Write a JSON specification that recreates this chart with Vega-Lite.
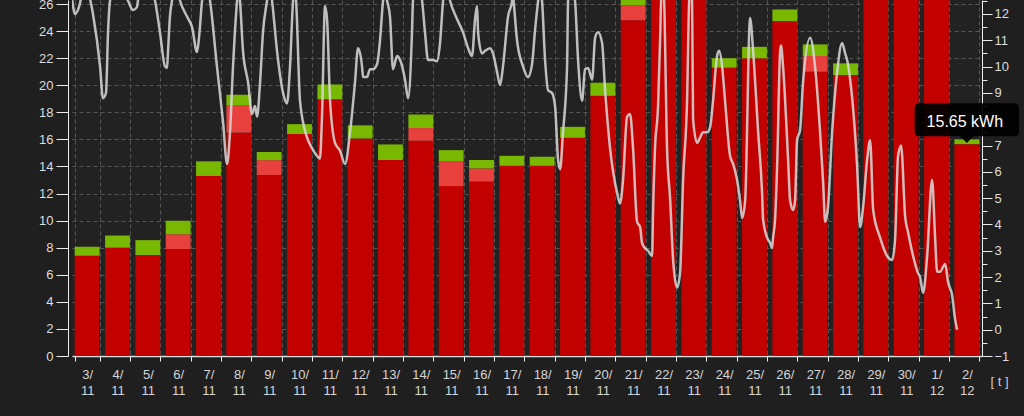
{
  "$schema": "https://vega.github.io/schema/vega-lite/v6.json",
  "width": 910,
  "height": 356,
  "autosize": "none",
  "padding": {"left": 72, "top": 0, "right": 42, "bottom": 60},
  "background": "#1f1f1f",
  "config": {
    "view": {"fill": "#222222", "stroke": null},
    "font": "Liberation Sans",
    "axis": {"labelFont": "Liberation Sans", "titleFont": "Liberation Sans"}
  },
  "datasets": {
    "energy": [
      {"day": "3/11", "part": "base", "kwh": 7.4}, {"day": "3/11", "part": "top", "kwh": 0.68},
      {"day": "4/11", "part": "base", "kwh": 8.0}, {"day": "4/11", "part": "top", "kwh": 0.9},
      {"day": "5/11", "part": "base", "kwh": 7.46}, {"day": "5/11", "part": "top", "kwh": 1.1},
      {"day": "6/11", "part": "base", "kwh": 7.9}, {"day": "6/11", "part": "extra", "kwh": 1.1}, {"day": "6/11", "part": "top", "kwh": 1.0},
      {"day": "7/11", "part": "base", "kwh": 13.3}, {"day": "7/11", "part": "top", "kwh": 1.08},
      {"day": "8/11", "part": "base", "kwh": 16.5}, {"day": "8/11", "part": "extra", "kwh": 2.0}, {"day": "8/11", "part": "top", "kwh": 0.8},
      {"day": "9/11", "part": "base", "kwh": 13.37}, {"day": "9/11", "part": "extra", "kwh": 1.1}, {"day": "9/11", "part": "top", "kwh": 0.6},
      {"day": "10/11", "part": "base", "kwh": 16.4}, {"day": "10/11", "part": "top", "kwh": 0.73},
      {"day": "11/11", "part": "base", "kwh": 18.96}, {"day": "11/11", "part": "top", "kwh": 1.1},
      {"day": "12/11", "part": "base", "kwh": 16.07}, {"day": "12/11", "part": "top", "kwh": 0.97},
      {"day": "13/11", "part": "base", "kwh": 14.48}, {"day": "13/11", "part": "top", "kwh": 1.15},
      {"day": "14/11", "part": "base", "kwh": 15.9}, {"day": "14/11", "part": "extra", "kwh": 0.94}, {"day": "14/11", "part": "top", "kwh": 1.0},
      {"day": "15/11", "part": "base", "kwh": 12.55}, {"day": "15/11", "part": "extra", "kwh": 1.85}, {"day": "15/11", "part": "top", "kwh": 0.81},
      {"day": "16/11", "part": "base", "kwh": 12.88}, {"day": "16/11", "part": "extra", "kwh": 0.98}, {"day": "16/11", "part": "top", "kwh": 0.62},
      {"day": "17/11", "part": "base", "kwh": 14.05}, {"day": "17/11", "part": "top", "kwh": 0.74},
      {"day": "18/11", "part": "base", "kwh": 14.05}, {"day": "18/11", "part": "top", "kwh": 0.67},
      {"day": "19/11", "part": "base", "kwh": 16.12}, {"day": "19/11", "part": "top", "kwh": 0.81},
      {"day": "20/11", "part": "base", "kwh": 19.22}, {"day": "20/11", "part": "top", "kwh": 0.97},
      {"day": "21/11", "part": "base", "kwh": 24.8}, {"day": "21/11", "part": "extra", "kwh": 1.1}, {"day": "21/11", "part": "top", "kwh": 0.9},
      {"day": "22/11", "part": "base", "kwh": 29.0}, {"day": "22/11", "part": "top", "kwh": 1.0},
      {"day": "23/11", "part": "base", "kwh": 30.5}, {"day": "23/11", "part": "top", "kwh": 1.0},
      {"day": "24/11", "part": "base", "kwh": 21.3}, {"day": "24/11", "part": "top", "kwh": 0.7},
      {"day": "25/11", "part": "base", "kwh": 21.99}, {"day": "25/11", "part": "top", "kwh": 0.85},
      {"day": "26/11", "part": "base", "kwh": 24.74}, {"day": "26/11", "part": "top", "kwh": 0.86},
      {"day": "27/11", "part": "base", "kwh": 21.0}, {"day": "27/11", "part": "extra", "kwh": 1.16}, {"day": "27/11", "part": "top", "kwh": 0.86},
      {"day": "28/11", "part": "base", "kwh": 20.75}, {"day": "28/11", "part": "top", "kwh": 0.87},
      {"day": "29/11", "part": "base", "kwh": 28.0}, {"day": "29/11", "part": "top", "kwh": 1.0},
      {"day": "30/11", "part": "base", "kwh": 29.5}, {"day": "30/11", "part": "top", "kwh": 1.0},
      {"day": "1/12", "part": "base", "kwh": 27.5}, {"day": "1/12", "part": "top", "kwh": 1.0},
      {"day": "2/12", "part": "base", "kwh": 15.65}, {"day": "2/12", "part": "top", "kwh": 0.35}
    ],
    "temperature": [
      {"h": 0, "t": 12.6}, {"h": 2.4, "t": 12.0}, {"h": 6.3, "t": 12.4}, {"h": 8.7, "t": 13.0}, {"h": 11, "t": 13.4},
      {"h": 14.2, "t": 12.6}, {"h": 16.6, "t": 12.0}, {"h": 22.2, "t": 10.0}, {"h": 24.5, "t": 8.8}, {"h": 26.9, "t": 9.0},
      {"h": 28.5, "t": 11.3}, {"h": 30.1, "t": 12.5}, {"h": 36.4, "t": 13.4}, {"h": 44.3, "t": 12.5}, {"h": 48.3, "t": 12.15},
      {"h": 51.4, "t": 12.26}, {"h": 52.2, "t": 12.5}, {"h": 58.6, "t": 13.3}, {"h": 65.7, "t": 12.5}, {"h": 69.6, "t": 11.3},
      {"h": 73.6, "t": 10.0}, {"h": 75.2, "t": 9.95}, {"h": 76.0, "t": 10.6}, {"h": 77.5, "t": 11.9}, {"h": 79.1, "t": 12.5},
      {"h": 82.3, "t": 13.2}, {"h": 85.5, "t": 12.5}, {"h": 91.0, "t": 11.9}, {"h": 95.0, "t": 11.5}, {"h": 98.9, "t": 10.55},
      {"h": 100.5, "t": 11.1}, {"h": 102.9, "t": 12.5}, {"h": 106, "t": 13.3}, {"h": 109.2, "t": 12.5}, {"h": 114.7, "t": 10.0},
      {"h": 119.5, "t": 7.9}, {"h": 122.7, "t": 6.3}, {"h": 125.0, "t": 7.5}, {"h": 127.4, "t": 10.0}, {"h": 130.6, "t": 12.5},
      {"h": 131.7, "t": 13.0}, {"h": 132.9, "t": 12.5}, {"h": 135.3, "t": 10.6}, {"h": 139.3, "t": 9.4}, {"h": 142.4, "t": 8.2},
      {"h": 144.8, "t": 8.5}, {"h": 146.4, "t": 8.1}, {"h": 148.8, "t": 9.4}, {"h": 151.1, "t": 11.3}, {"h": 154.3, "t": 12.5},
      {"h": 156.3, "t": 13.2}, {"h": 158.3, "t": 12.5}, {"h": 162.2, "t": 10.6}, {"h": 167.0, "t": 9.0}, {"h": 170.1, "t": 8.6},
      {"h": 172.5, "t": 10.0}, {"h": 174.9, "t": 12.5}, {"h": 176.1, "t": 13.0}, {"h": 177.3, "t": 12.5}, {"h": 180.4, "t": 8.7},
      {"h": 186.0, "t": 7.3}, {"h": 189.9, "t": 6.9}, {"h": 193.9, "t": 6.6}, {"h": 196.2, "t": 6.5}, {"h": 197.8, "t": 8.1},
      {"h": 200.2, "t": 12.3}, {"h": 201.8, "t": 11.8}, {"h": 204.2, "t": 8.7}, {"h": 208.1, "t": 7.1}, {"h": 212.1, "t": 6.8},
      {"h": 216.0, "t": 6.3}, {"h": 220.0, "t": 7.5}, {"h": 223.9, "t": 9.4}, {"h": 226.3, "t": 10.7}, {"h": 229.5, "t": 10.0},
      {"h": 230.3, "t": 9.6}, {"h": 233.4, "t": 9.6}, {"h": 235.8, "t": 9.9}, {"h": 238.2, "t": 9.9}, {"h": 241.4, "t": 10.1},
      {"h": 243.7, "t": 11.0}, {"h": 246.1, "t": 12.5}, {"h": 247.7, "t": 13.0}, {"h": 249.3, "t": 12.5}, {"h": 251.6, "t": 11.9},
      {"h": 254.0, "t": 9.9}, {"h": 257.2, "t": 10.4}, {"h": 259.6, "t": 10.25}, {"h": 263.5, "t": 9.5}, {"h": 265.9, "t": 8.8},
      {"h": 269.0, "t": 11.3}, {"h": 269.8, "t": 12.5}, {"h": 273, "t": 13.3}, {"h": 277.0, "t": 12.5}, {"h": 279.3, "t": 11.3},
      {"h": 281.7, "t": 10.25}, {"h": 285.7, "t": 10.25}, {"h": 288.8, "t": 10.2}, {"h": 291.2, "t": 10.9}, {"h": 293.6, "t": 12.5},
      {"h": 296, "t": 13.2}, {"h": 299.1, "t": 12.5}, {"h": 304.7, "t": 11.8}, {"h": 309.4, "t": 11.3}, {"h": 313.4, "t": 10.7},
      {"h": 316.5, "t": 10.4}, {"h": 318.9, "t": 11.8}, {"h": 320.5, "t": 12.3}, {"h": 321.3, "t": 11.3}, {"h": 324.4, "t": 10.5},
      {"h": 326.8, "t": 10.6}, {"h": 330.8, "t": 10.7}, {"h": 333.1, "t": 10.5}, {"h": 336.3, "t": 9.8}, {"h": 338.7, "t": 9.3},
      {"h": 341.0, "t": 10.0}, {"h": 345.0, "t": 11.9}, {"h": 348.2, "t": 12.5}, {"h": 348.8, "t": 12.8}, {"h": 349.4, "t": 12.5},
      {"h": 352.1, "t": 11.0}, {"h": 356.9, "t": 10.0}, {"h": 360.8, "t": 9.6}, {"h": 364.0, "t": 10.1}, {"h": 366.4, "t": 11.4},
      {"h": 368.8, "t": 12.5}, {"h": 370.3, "t": 13.0}, {"h": 371.9, "t": 12.5}, {"h": 374.3, "t": 10.25}, {"h": 376.7, "t": 9.1},
      {"h": 379.8, "t": 9.0}, {"h": 382.2, "t": 8.5}, {"h": 384.6, "t": 6.45}, {"h": 386.2, "t": 6.1}, {"h": 388.5, "t": 7.5},
      {"h": 391.7, "t": 10.0}, {"h": 392.5, "t": 12.5}, {"h": 394.9, "t": 13.2}, {"h": 398.0, "t": 12.5}, {"h": 400.4, "t": 10.25},
      {"h": 403.6, "t": 8.7}, {"h": 405.9, "t": 9.9}, {"h": 408.3, "t": 9.95}, {"h": 411.5, "t": 9.5}, {"h": 413.9, "t": 11.1},
      {"h": 416.2, "t": 11.3}, {"h": 419.4, "t": 10.9}, {"h": 421.8, "t": 9.1}, {"h": 425.7, "t": 6.9}, {"h": 431.3, "t": 5.2},
      {"h": 433.6, "t": 4.8}, {"h": 436.0, "t": 5.7}, {"h": 439.2, "t": 8.1}, {"h": 441.5, "t": 8.2}, {"h": 443.9, "t": 6.9},
      {"h": 447.1, "t": 4.1}, {"h": 449.5, "t": 3.9}, {"h": 451.0, "t": 3.3}, {"h": 453.4, "t": 3.1}, {"h": 455.8, "t": 3.0},
      {"h": 459.0, "t": 2.8}, {"h": 459.7, "t": 4.4}, {"h": 461.3, "t": 6.9}, {"h": 463.7, "t": 8.5}, {"h": 465.3, "t": 11.0},
      {"h": 466.1, "t": 12.5}, {"h": 467.3, "t": 13.2}, {"h": 468.5, "t": 12.5}, {"h": 470.8, "t": 6.9}, {"h": 473.2, "t": 5.0},
      {"h": 475.6, "t": 2.65}, {"h": 478.7, "t": 1.6}, {"h": 481.1, "t": 2.15}, {"h": 483.5, "t": 5.7}, {"h": 486.7, "t": 8.8},
      {"h": 488.3, "t": 12.5}, {"h": 489.4, "t": 13.0}, {"h": 490.6, "t": 12.5}, {"h": 491.4, "t": 8.0}, {"h": 494.6, "t": 7.1},
      {"h": 496.9, "t": 7.3}, {"h": 499.3, "t": 7.5}, {"h": 502.5, "t": 7.5}, {"h": 504.9, "t": 7.7}, {"h": 507.2, "t": 8.7},
      {"h": 510.4, "t": 10.4}, {"h": 512.0, "t": 10.6}, {"h": 514.4, "t": 10.0}, {"h": 516.7, "t": 8.7}, {"h": 520.7, "t": 6.6},
      {"h": 523.1, "t": 6.3}, {"h": 526.2, "t": 5.7}, {"h": 528.6, "t": 4.9}, {"h": 530.2, "t": 4.25}, {"h": 532.6, "t": 4.9},
      {"h": 536.5, "t": 11.85}, {"h": 538.9, "t": 10.6}, {"h": 542.9, "t": 7.5}, {"h": 546.0, "t": 5.2}, {"h": 546.8, "t": 4.2},
      {"h": 550.0, "t": 3.5}, {"h": 552.3, "t": 3.3}, {"h": 553.9, "t": 3.1}, {"h": 554.7, "t": 3.5}, {"h": 556.3, "t": 4.2},
      {"h": 557.9, "t": 6.2}, {"h": 560.3, "t": 10.6}, {"h": 561.0, "t": 10.8}, {"h": 562.6, "t": 10.0}, {"h": 566.6, "t": 6.45},
      {"h": 568.2, "t": 4.9}, {"h": 570.5, "t": 4.55}, {"h": 572.1, "t": 4.9}, {"h": 573.7, "t": 7.2}, {"h": 576.1, "t": 7.6},
      {"h": 578.4, "t": 9.4}, {"h": 584.0, "t": 11.1}, {"h": 587.9, "t": 10.0}, {"h": 591.9, "t": 7.5}, {"h": 594.3, "t": 5.6},
      {"h": 595.9, "t": 4.1}, {"h": 598.2, "t": 4.7}, {"h": 601.4, "t": 7.5}, {"h": 605.4, "t": 9.8}, {"h": 609.3, "t": 10.9},
      {"h": 611.7, "t": 10.5}, {"h": 613.3, "t": 10.25}, {"h": 615.7, "t": 9.5}, {"h": 621.2, "t": 6.2}, {"h": 623.6, "t": 3.9},
      {"h": 626.0, "t": 4.7}, {"h": 629.1, "t": 6.45}, {"h": 631.5, "t": 7.2}, {"h": 633.9, "t": 4.55}, {"h": 639.4, "t": 3.5},
      {"h": 644.9, "t": 2.8}, {"h": 648.9, "t": 2.65}, {"h": 651.2, "t": 3.4}, {"h": 653.6, "t": 6.6}, {"h": 656.0, "t": 7.0},
      {"h": 659.2, "t": 4.3}, {"h": 661.5, "t": 3.7}, {"h": 665.5, "t": 2.8}, {"h": 669.4, "t": 2.15}, {"h": 671.0, "t": 2.0},
      {"h": 673.4, "t": 1.4}, {"h": 676.6, "t": 2.8}, {"h": 680.5, "t": 5.7}, {"h": 682.9, "t": 3.5}, {"h": 684.5, "t": 2.2},
      {"h": 686.8, "t": 2.2}, {"h": 690.8, "t": 2.5}, {"h": 693.2, "t": 1.8}, {"h": 696.4, "t": 1.3}, {"h": 698.7, "t": 0.4},
      {"h": 700.3, "t": 0.0}
    ],
    "hover": [
      {"day": "2/12", "kwh": 15.65, "label": "15.65 kWh"}
    ]
  },
  "layer": [
    {
      "data": {"name": "energy"},
      "mark": {"type": "bar", "clip": true},
      "encoding": {
        "x": {
          "field": "day", "type": "ordinal",
          "scale": {
            "domain": ["3/11", "4/11", "5/11", "6/11", "7/11", "8/11", "9/11", "10/11", "11/11", "12/11", "13/11", "14/11", "15/11", "16/11", "17/11", "18/11", "19/11", "20/11", "21/11", "22/11", "23/11", "24/11", "25/11", "26/11", "27/11", "28/11", "29/11", "30/11", "1/12", "2/12"],
            "paddingInner": 0.18, "paddingOuter": 0.09
          },
          "axis": {
            "title": "[ t ]", "titleX": 918, "titleY": 25, "titleAlign": "left", "titleBaseline": "middle",
            "titleFontWeight": "normal", "titleFontSize": 13, "titleColor": "#cccccc",
            "labelAngle": 0,
            "labelExpr": "indexof(datum.label || '', '/') < 0 ? '' : [split(datum.label, '/')[0] + '/', split(datum.label, '/')[1]]",
            "labelLineHeight": 16, "labelFontSize": 13, "labelColor": "#d6d6d6", "labelPadding": 7,
            "tickBand": "extent", "tickSize": 5, "tickColor": "#eeeeee",
            "domainColor": "#dddddd", "domainWidth": 1.5,
            "grid": true, "gridColor": "#555555", "gridDash": [4, 3]
          }
        },
        "y": {
          "field": "kwh", "type": "quantitative", "stack": "zero",
          "scale": {"domain": [0, 26.3], "nice": false},
          "axis": {
            "title": null, "orient": "left", "offset": 4,
            "values": [0, 2, 4, 6, 8, 10, 12, 14, 16, 18, 20, 22, 24, 26],
            "tickSize": 12, "tickColor": "#eeeeee", "domainColor": "#eeeeee",
            "labelColor": "#dddddd", "labelFontSize": 13, "labelPadding": 3,
            "grid": true, "gridColor": "#555555", "gridDash": [4, 3]
          }
        },
        "color": {
          "field": "part", "type": "nominal",
          "scale": {"domain": ["base", "extra", "top"], "range": ["#c20000", "#e8413d", "#78b800"]},
          "legend": null
        },
        "order": {"field": "part", "type": "ordinal", "sort": "ascending"}
      }
    },
    {
      "data": {"name": "temperature"},
      "mark": {"type": "line", "clip": true, "interpolate": "monotone", "color": "#d9d9d9", "strokeWidth": 2.5, "opacity": 0.85},
      "encoding": {
        "x": {"field": "h", "type": "quantitative", "scale": {"domain": [0, 720], "nice": false, "zero": false}, "axis": null},
        "y": {
          "field": "t", "type": "quantitative",
          "scale": {"domain": [-1, 12.53], "nice": false, "zero": false},
          "axis": {
            "title": null, "orient": "right",
            "values": [-1, -0.5, 0, 0.5, 1, 1.5, 2, 2.5, 3, 3.5, 4, 4.5, 5, 5.5, 6, 6.5, 7, 7.5, 8, 8.5, 9, 9.5, 10, 10.5, 11, 11.5, 12, 12.5],
            "labelExpr": "datum.value % 1 ? '' : format(datum.value, 'd')",
            "tickSize": {"condition": {"test": "datum.value % 1 !== 0", "value": 5}, "value": 10},
            "tickColor": "#eeeeee", "domainColor": "#eeeeee",
            "labelColor": "#dddddd", "labelFontSize": 13, "labelPadding": 2,
            "grid": false
          }
        }
      }
    },
    {
      "data": {"name": "hover"},
      "encoding": {
        "x": {
          "field": "day", "type": "ordinal",
          "scale": {
            "domain": ["3/11", "4/11", "5/11", "6/11", "7/11", "8/11", "9/11", "10/11", "11/11", "12/11", "13/11", "14/11", "15/11", "16/11", "17/11", "18/11", "19/11", "20/11", "21/11", "22/11", "23/11", "24/11", "25/11", "26/11", "27/11", "28/11", "29/11", "30/11", "1/12", "2/12"],
            "paddingInner": 0.18, "paddingOuter": 0.09
          },
          "axis": null
        },
        "y": {"field": "kwh", "type": "quantitative", "scale": {"domain": [0, 26.3], "nice": false}, "axis": null}
      },
      "layer": [
        {
          "mark": {
            "type": "point", "filled": true, "color": "#000000", "opacity": 0.92, "size": 10900, "strokeWidth": 0,
            "shape": "M-0.91,-0.783 H0.91 Q1,-0.783 1,-0.696 V-0.239 Q1,-0.152 0.91,-0.152 H0.13 L0,-0.02 L-0.13,-0.152 H-0.91 Q-1,-0.152 -1,-0.239 V-0.696 Q-1,-0.783 -0.91,-0.783 Z"
          }
        },
        {
          "mark": {"type": "text", "color": "#ffffff", "fontSize": 16, "dy": -22, "dx": -2, "baseline": "middle", "align": "center"},
          "encoding": {"text": {"field": "label"}}
        }
      ]
    }
  ],
  "resolve": {
    "scale": {"x": "independent", "y": "independent"},
    "axis": {"x": "independent", "y": "independent"}
  }
}
